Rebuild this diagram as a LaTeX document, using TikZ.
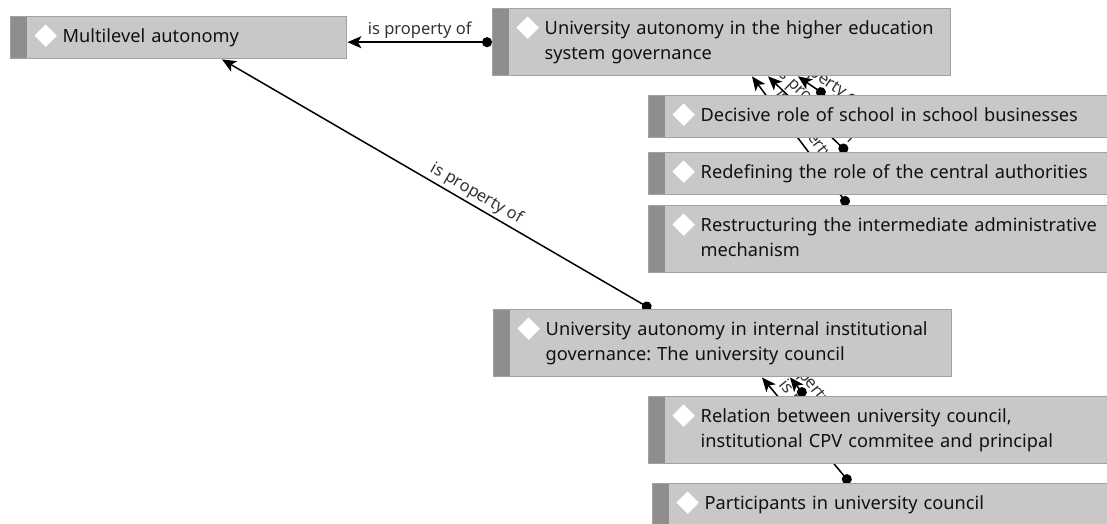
\documentclass[tikz,border=0pt]{standalone}
\usepackage{fontspec}
\setmainfont{Noto Sans}
\frenchspacing
\usetikzlibrary{arrows.meta,backgrounds}
\definecolor{boxfill}{HTML}{C8C8C8}
\definecolor{boxline}{HTML}{A2A2A2}
\definecolor{barfill}{HTML}{8E8E8E}
\definecolor{inktext}{HTML}{111111}
\definecolor{labeltext}{HTML}{333333}
\tikzset{
  codebox/.style={draw=boxline, fill=boxfill, line width=1.4pt, anchor=north west,
    text width=#1, align=left, inner xsep=0pt, inner ysep=8.5pt, text=inktext,
    font=\fontsize{18.2}{25}\selectfont,
    execute at begin node={\leftskip=52pt\strut}, execute at end node={\strut},
    path picture={
      \fill[barfill] (path picture bounding box.north west) rectangle ([xshift=16pt]path picture bounding box.south west);
      \draw[boxline!60, fill=white, line width=0.8pt] ([xshift=35pt,yshift=-19pt]path picture bounding box.north west)
        +(0,12) -- +(12,0) -- +(0,-12) -- +(-12,0) -- cycle;
    }},
  proplink/.style={line width=1.5pt, draw=black, {Circle[length=10pt]}-{Stealth[length=14pt,width=12pt,inset=3.5pt]}},
  proplabel/.style={font=\fontsize{16.5}{18}\selectfont, text=labeltext, inner sep=3pt}
}
\begin{document}
\begin{tikzpicture}[x=1pt, y=-1pt]
    \useasboundingbox (0,0) rectangle (1107,524);
    % Codes
    \node[codebox=336pt] (multi) at (10,16) {Multilevel autonomy};
    \node[codebox=458pt] (higher) at (492,8) {University autonomy in the higher education\\system governance};
    \node[codebox=470pt] (decisive) at (648,95) {Decisive role of school in school businesses};
    \node[codebox=470pt] (redefine) at (648,152) {Redefining the role of the central authorities};
    \node[codebox=470pt] (restruct) at (648,205) {Restructuring the intermediate administrative\\mechanism};
    \node[codebox=458pt] (internal) at (493,309) {University autonomy in internal institutional\\governance: The university council};
    \node[codebox=470pt] (relation) at (648,396) {Relation between university council,\\institutional CPV commitee and principal};
    \node[codebox=470pt] (particip) at (652,483) {Participants in university council};
    % Links (behind the boxes)
    \begin{scope}[on background layer]
        \draw[proplink] (higher.west) -- node[proplabel, above] {is property of} (higher.west -| multi.east);
        \draw[proplink] ([xshift=158pt]internal.north west) -- node[proplabel, above, sloped, pos=0.42] {is property of} ([xshift=212pt]multi.south west);
        \draw[proplink] ([xshift=177pt]decisive.north west) -- node[proplabel, above, sloped] {is property of} ([xshift=306pt]higher.south west);
        \draw[proplink] ([xshift=199pt]redefine.north west) -- node[proplabel, above, sloped] {is property of} ([xshift=276pt]higher.south west);
        \draw[proplink] ([xshift=200pt]restruct.north west) -- node[proplabel, above, sloped] {is property of} ([xshift=260pt]higher.south west);
        \draw[proplink] ([xshift=157pt]relation.north west) -- node[proplabel, above, sloped] {is property of} ([xshift=297pt]internal.south west);
        \draw[proplink] ([xshift=198pt]particip.north west) -- node[proplabel, above, sloped] {is property of} ([xshift=269pt]internal.south west);
    \end{scope}
\end{tikzpicture}
\end{document}
